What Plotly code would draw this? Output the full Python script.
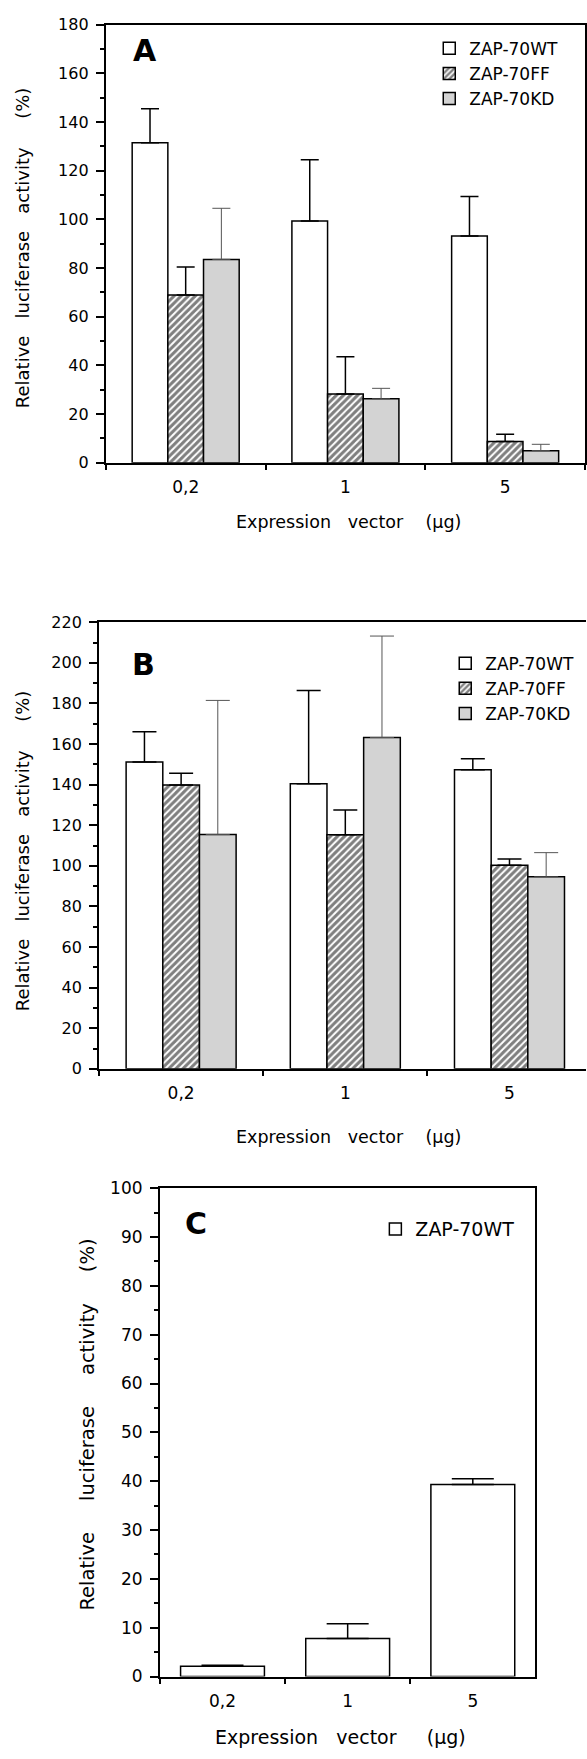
import plotly.graph_objects as go

# ---------------- data ----------------
categories = ["0,2", "1", "5"]
series_names = ["ZAP-70WT", "ZAP-70FF", "ZAP-70KD"]

# Panel A
a_wt = [131.5, 99.4, 93.2]
a_wt_err = [14.0, 25.1, 16.2]
a_ff = [69.0, 28.3, 8.7]
a_ff_err = [11.5, 15.3, 3.0]
a_kd = [83.6, 26.3, 5.0]
a_kd_err = [21.0, 4.3, 2.6]

# Panel B
b_wt = [151.1, 140.4, 147.4]
b_wt_err = [15.0, 46.0, 5.4]
b_ff = [139.8, 115.3, 100.3]
b_ff_err = [5.8, 12.2, 3.1]
b_kd = [115.4, 163.2, 94.6]
b_kd_err = [66.1, 50.0, 11.9]

# Panel C
c_wt = [2.1, 7.8, 39.3]
c_wt_err = [0.2, 3.0, 1.2]

a_yticks = [0, 20, 40, 60, 80, 100, 120, 140, 160, 180]
b_yticks = [0, 20, 40, 60, 80, 100, 120, 140, 160, 180, 200, 220]
c_yticks = [0, 10, 20, 30, 40, 50, 60, 70, 80, 90, 100]

panel_letters = ["A", "B", "C"]
NB = "\u00a0"
ytitle_ab = "Relative" + NB * 3 + "luciferase" + NB * 3 + "activity" + NB * 5 + "(%)"
ytitle_c = "Relative" + NB * 5 + "luciferase" + NB * 5 + "activity" + NB * 5 + "(%)"
xtitle_ab = "Expression" + NB * 3 + "vector" + NB * 4 + "(µg)"
xtitle_c = "Expression" + NB * 3 + "vector" + NB * 5 + "(µg)"

# ---------------- layout helpers ----------------
W, H = 587, 1759
FONT = "DejaVu Sans"


def px(x):
    return x / W


def py(y):
    return 1 - y / H


def bar_trace(x, y, err, name, xa, ya, leg, style, cap, showlegend=True):
    marker = dict(color="white", line=dict(color="black", width=1.5))
    err_color, err_th = "black", 1.5
    if style == "hatch":
        marker["pattern"] = dict(shape="/", fgcolor="black", bgcolor="white",
                                 size=5, solidity=0.6)
    elif style == "dots":
        marker["pattern"] = dict(shape=".", fgcolor="#333333", bgcolor="white",
                                 size=2, solidity=0.5)
        err_color, err_th = "#555555", 1
    return go.Bar(
        x=x, y=y, name=name, xaxis=xa, yaxis=ya, legend=leg,
        showlegend=showlegend, marker=marker,
        error_y=dict(type="data", symmetric=False, array=err,
                     arrayminus=[0] * len(err), color=err_color,
                     thickness=err_th, width=cap),
    )


fig = go.Figure()
# A
fig.add_trace(bar_trace(categories, a_wt, a_wt_err, series_names[0], "x", "y", "legend", "white", 9))
fig.add_trace(bar_trace(categories, a_ff, a_ff_err, series_names[1], "x", "y", "legend", "hatch", 9))
fig.add_trace(bar_trace(categories, a_kd, a_kd_err, series_names[2], "x", "y", "legend", "dots", 9))
# B
fig.add_trace(bar_trace(categories, b_wt, b_wt_err, series_names[0], "x2", "y2", "legend2", "white", 12))
fig.add_trace(bar_trace(categories, b_ff, b_ff_err, series_names[1], "x2", "y2", "legend2", "hatch", 12))
fig.add_trace(bar_trace(categories, b_kd, b_kd_err, series_names[2], "x2", "y2", "legend2", "dots", 12))
# C
fig.add_trace(bar_trace(categories, c_wt, c_wt_err, series_names[0], "x3", "y3", "legend3", "white", 21))


def xaxis_style(domain, rng, anchor, fsize, mirror=True):
    return dict(domain=domain, anchor=anchor, type="category", range=rng,
                tickson="boundaries", ticks="outside", ticklen=5, tickwidth=1.5,
                tickcolor="black", showline=True, linecolor="black", linewidth=2,
                mirror=mirror, showgrid=False, zeroline=False,
                ticklabelstandoff=8,
                tickfont=dict(family=FONT, size=fsize, color="black"))


def yaxis_style(domain, rng, anchor, tickvals, minor_dtick, fsize, mirror=True):
    return dict(domain=domain, anchor=anchor, range=rng, tickmode="array",
                tickvals=tickvals, ticktext=[str(v) for v in tickvals],
                ticks="outside", ticklen=8, tickwidth=1.5, tickcolor="black",
                minor=dict(dtick=minor_dtick, tick0=0, ticks="outside", ticklen=4,
                           tickwidth=1.5, tickcolor="black", showgrid=False),
                showline=True, linecolor="black", linewidth=2, mirror=mirror,
                showgrid=False, zeroline=False, ticklabelstandoff=4,
                tickfont=dict(family=FONT, size=fsize, color="black"))


legend_common = dict(xanchor="left", yanchor="top", bgcolor="rgba(0,0,0,0)",
                     borderwidth=0, traceorder="normal", tracegroupgap=0)

fig.update_layout(
    width=W, height=H,
    margin=dict(l=0, r=0, t=0, b=0, pad=0),
    paper_bgcolor="white", plot_bgcolor="white",
    barmode="group", bargap=0.33, bargroupgap=0,
    font=dict(family=FONT, color="black"),
    xaxis=xaxis_style([px(106), px(586)], [-0.5, 2.5], "y", 17),
    yaxis=yaxis_style([py(458), py(15)], [0, 180], "x", a_yticks, 10, 16),
    xaxis2=xaxis_style([px(99.2), 1.0], [-0.5, 2.466], "y2", 17),
    yaxis2=yaxis_style([py(1071), py(619.3)], [0, 220], "x2", b_yticks, 10, 16, mirror=False),
    xaxis3=xaxis_style([px(160.2), px(536.3)], [-0.5, 2.5], "y3", 17),
    yaxis3=yaxis_style([py(1685.7), py(1191.7)], [0, 100], "x3", c_yticks, 5, 17),
    legend=dict(x=px(430), y=py(21), font=dict(family=FONT, size=17, color="black"), **legend_common),
    legend2=dict(x=px(446), y=py(643), font=dict(family=FONT, size=17, color="black"), **legend_common),
    legend3=dict(x=px(376), y=py(1214), font=dict(family=FONT, size=19, color="black"), **legend_common),
)

annotations = [
    # panel letters
    dict(text="<b>" + panel_letters[0] + "</b>", x=px(145), y=py(41), font=dict(size=30)),
    dict(text="<b>" + panel_letters[1] + "</b>", x=px(144), y=py(662), font=dict(size=30)),
    dict(text="<b>" + panel_letters[2] + "</b>", x=px(196), y=py(1227), font=dict(size=30)),
    # y titles
    dict(text=ytitle_ab, x=px(22), y=py(240), textangle=-90, font=dict(size=18)),
    dict(text=ytitle_ab, x=px(22), y=py(850), textangle=-90, font=dict(size=18)),
    dict(text=ytitle_c, x=px(88), y=py(1431), textangle=-90, font=dict(size=19.5)),
    # x titles
    dict(text=xtitle_ab, x=px(348.6), y=py(518), font=dict(size=17.5)),
    dict(text=xtitle_ab, x=px(349), y=py(1140), font=dict(size=17.5)),
    dict(text=xtitle_c, x=px(341), y=py(1746.7), font=dict(size=19)),
]
for a in annotations:
    a.update(xref="paper", yref="paper", showarrow=False, xanchor="center",
             yanchor="middle")
    a["font"] = dict(family=FONT, color="black", **a["font"])
fig.update_layout(annotations=annotations)

fig.write_html("out.html", config={"displayModeBar": False},
               post_script="document.body.style.margin='0';")
